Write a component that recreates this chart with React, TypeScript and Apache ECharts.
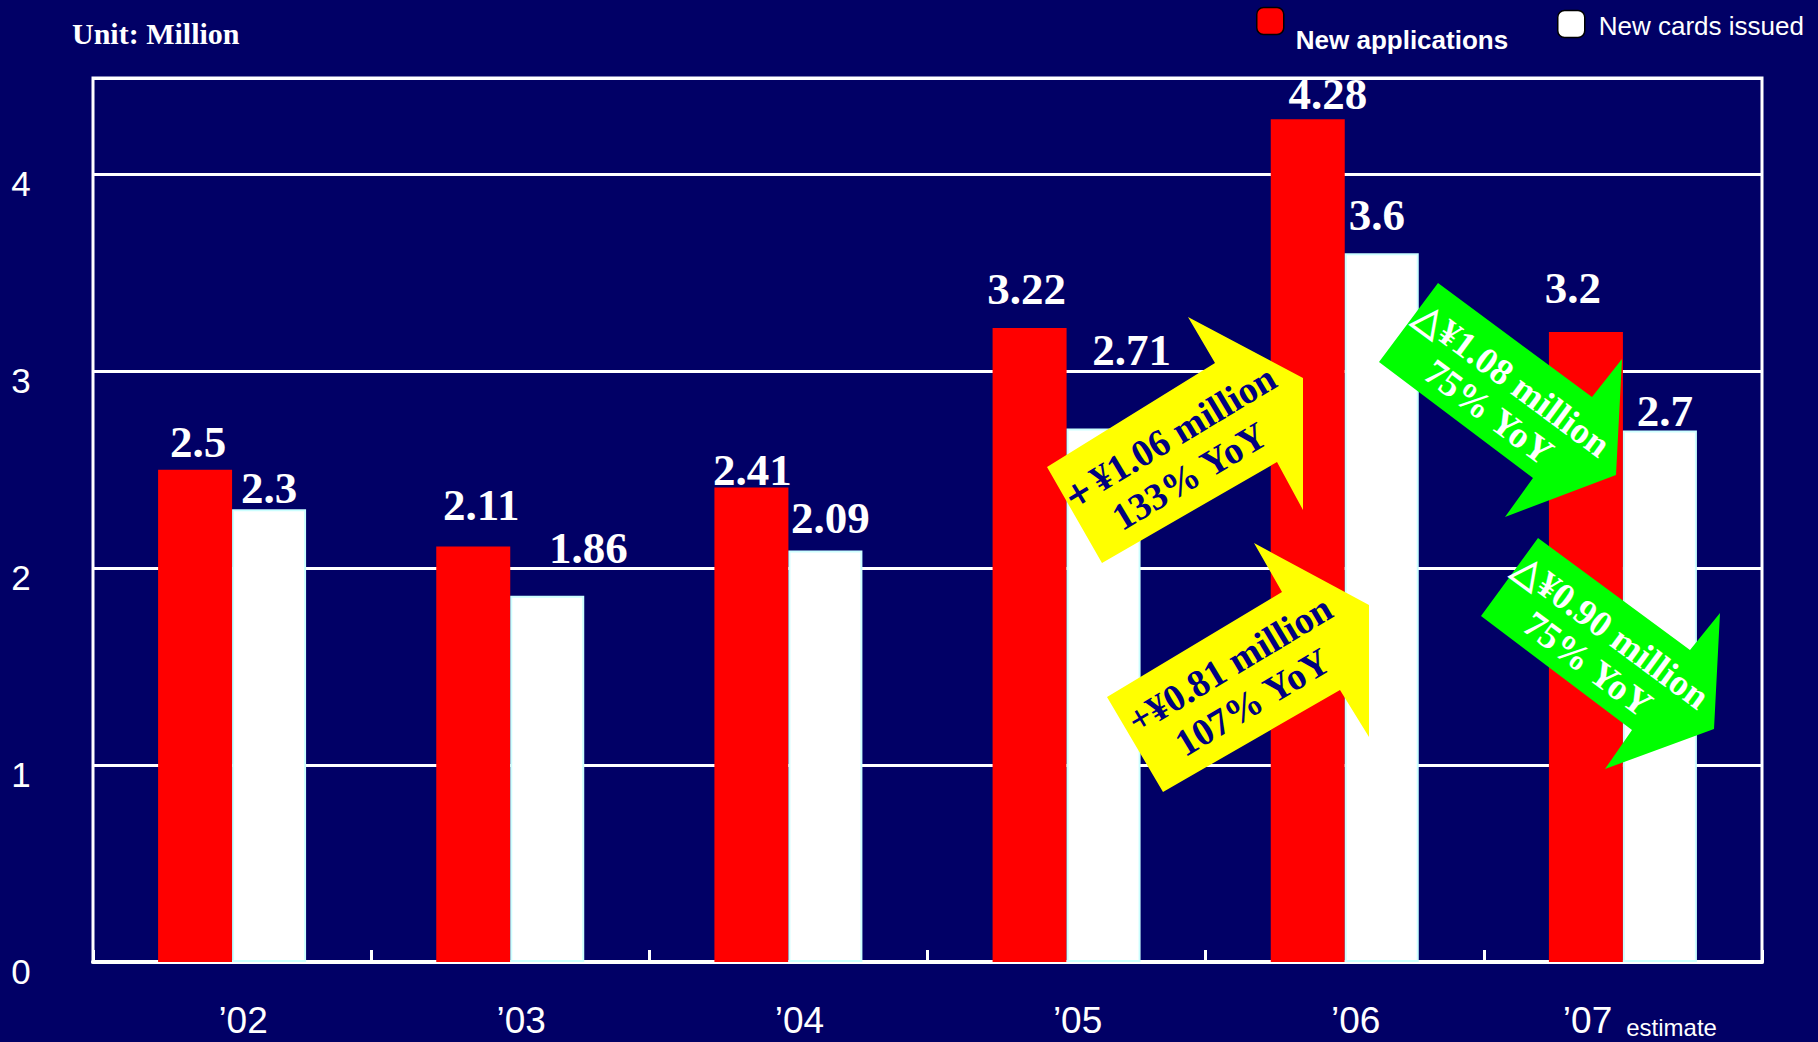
import React, { useEffect, useRef } from "react";
import * as echarts from "echarts";

// ---- data ----
const categories = ["’02", "’03", "’04", "’05", "’06", "’07"];
const newApplications = [2.5, 2.11, 2.41, 3.22, 4.28, 3.2];
const newCardsIssued = [2.3, 1.86, 2.09, 2.71, 3.6, 2.7];
const yMin = 0;
const yMax = 4.49;
const yInterval = 1;
const estimateNote = "estimate";
const unitText = "Unit: Million";
const annotationTexts = [
  "＋¥1.06 million\n133% YoY",
  "+¥0.81 million\n107% YoY",
  "△¥1.08 million\n75% YoY",
  "△¥0.90 million\n75% YoY",
];

// ---- styling (label nudges, annotation geometry) ----
const redLabelOffsets = [
  [3, -5],
  [8, -19],
  [1, 5],
  [-3, -17],
  [20, -3],
  [-13, -21],
];
const whiteLabelOffsets = [
  [0, 1],
  [41, -25],
  [5, -10],
  [28, -56],
  [-5, -16],
  [5, 3],
];

const arrowShapes = [
  {
    fill: "#ffff00",
    points: [
      [1047, 467],
      [1215, 363],
      [1188, 317],
      [1303, 378],
      [1303, 510],
      [1277, 462],
      [1102, 563],
    ],
  },
  {
    fill: "#ffff00",
    points: [
      [1107, 697],
      [1282, 592],
      [1254, 543],
      [1369, 605],
      [1369, 737],
      [1340, 690],
      [1163, 792],
    ],
  },
  {
    fill: "#00ff00",
    points: [
      [1438, 283],
      [1592, 397],
      [1622, 359],
      [1616, 475],
      [1505, 517],
      [1533, 478],
      [1379, 362],
    ],
  },
  {
    fill: "#00ff00",
    points: [
      [1538, 538],
      [1690, 650],
      [1720, 613],
      [1714, 729],
      [1605, 769],
      [1632, 730],
      [1481, 616],
    ],
  },
];
const arrowTextPlacement = [
  { x: 1178, y: 457, rot: 31, color: "#000080", size: 38, lh: 44 },
  { x: 1241, y: 683, rot: 31, color: "#000080", size: 38, lh: 44 },
  { x: 1501, y: 396, rot: -36.5, color: "#ffffff", size: 37, lh: 40 },
  { x: 1600, y: 648, rot: -36.5, color: "#ffffff", size: 37, lh: 40 },
];

const NARROW = "'Liberation Sans Narrow', 'Arial Narrow', 'Liberation Sans', Arial, sans-serif";
const SERIF = "'Liberation Serif', 'Times New Roman', serif";
const SANS = "'Liberation Sans', Arial, sans-serif";

export default function App() {
  const ref = useRef<HTMLDivElement>(null);

  useEffect(() => {
    if (!ref.current) return;
    const chart = echarts.init(ref.current, null, { renderer: "svg" });

    const valueLabel = {
      show: true,
      position: "top",
      distance: 0,
      color: "#ffffff",
      fontFamily: SERIF,
      fontWeight: "bold",
      fontSize: 45,
    };

    const graphics: any[] = [];
    arrowShapes.forEach((a) => {
      graphics.push({
        type: "polygon",
        z: 100,
        shape: { points: a.points },
        style: { fill: a.fill, stroke: "none" },
      });
    });
    arrowTextPlacement.forEach((t, i) => {
      graphics.push({
        type: "text",
        z: 101,
        x: t.x,
        y: t.y,
        rotation: (t.rot * Math.PI) / 180,
        style: {
          text: annotationTexts[i],
          fill: t.color,
          fontFamily: SERIF,
          fontWeight: "bold",
          fontSize: t.size,
          lineHeight: t.lh,
          align: "center",
          verticalAlign: "middle",
        },
      });
    });

    const option: any = {
      animation: false,
      backgroundColor: "#010066",
      title: {
        text: unitText,
        left: 72,
        top: 18,
        padding: 0,
        textStyle: {
          color: "#ffffff",
          fontFamily: SERIF,
          fontWeight: "bold",
          fontSize: 30,
        },
      },
      legend: [
        {
          left: 1256,
          top: -11,
          padding: 0,
          itemWidth: 27,
          itemHeight: 27,
          data: [
            {
              name: "New applications",
              itemStyle: { color: "#ff0000", borderColor: "#000000", borderWidth: 1.5 },
            },
          ],
          formatter: "{a|{name}}",
          textStyle: {
            color: "#ffffff",
            fontFamily: SANS,
            fontWeight: "bold",
            fontSize: 26,
            rich: {
              a: {
                color: "#ffffff",
                fontFamily: SANS,
                fontWeight: "bold",
                fontSize: 26,
                lineHeight: 30,
                padding: [38, 0, 0, 7],
              },
            },
          },
        },
        {
          left: 1557,
          top: 9,
          padding: 0,
          itemWidth: 27,
          itemHeight: 27,
          data: [
            {
              name: "New cards issued",
              itemStyle: { color: "#ffffff", borderColor: "#000000", borderWidth: 1.5 },
            },
          ],
          formatter: "{b|{name}}",
          textStyle: {
            color: "#ffffff",
            fontFamily: SANS,
            fontSize: 26,
            rich: {
              b: {
                color: "#ffffff",
                fontFamily: SANS,
                fontSize: 26,
                lineHeight: 30,
                padding: [4, 0, 0, 9],
              },
            },
          },
        },
      ],
      grid: {
        left: 93,
        right: 56,
        top: 78,
        bottom: 80,
        show: true,
        borderColor: "#ffffff",
        borderWidth: 3,
        backgroundColor: "transparent",
      },
      xAxis: {
        type: "category",
        data: categories,
        axisLine: { show: true, lineStyle: { color: "#ffffff", width: 4 } },
        axisTick: {
          show: true,
          inside: true,
          interval: 0,
          length: 12,
          lineStyle: { color: "#ffffff", width: 3 },
        },
        axisLabel: {
          interval: 0,
          color: "#ffffff",
          fontFamily: NARROW,
          fontSize: 37,
          lineHeight: 37,
          margin: 40,
          padding: [0, 0, 0, 22],
          formatter: (v: string, i: number) =>
            i === categories.length - 1 ? `{d|${v}}{e|${estimateNote}}` : v,
          rich: {
            d: {
              color: "#ffffff",
              fontFamily: NARROW,
              fontSize: 37,
              lineHeight: 37,
              padding: [0, 0, 0, 12],
            },
            e: {
              color: "#ffffff",
              fontFamily: SANS,
              fontSize: 24,
              lineHeight: 30,
              verticalAlign: "bottom",
              padding: [0, 0, 0, 14],
            },
          },
        },
      },
      yAxis: {
        type: "value",
        min: yMin,
        max: yMax,
        interval: yInterval,
        axisLine: { show: false },
        axisTick: { show: false },
        splitLine: { show: true, lineStyle: { color: "#ffffff", width: 3 } },
        axisLabel: {
          showMaxLabel: false,
          color: "#ffffff",
          fontFamily: NARROW,
          fontSize: 35,
          align: "center",
          verticalAlign: "top",
          lineHeight: 18,
          margin: 72,
        },
      },
      series: [
        {
          name: "New applications",
          type: "bar",
          barWidth: 74,
          barGap: "0%",
          itemStyle: { color: "#ff0000" },
          label: valueLabel,
          data: newApplications.map((v, i) => ({
            value: v,
            label: { offset: redLabelOffsets[i] },
          })),
        },
        {
          name: "New cards issued",
          type: "bar",
          barWidth: 74,
          barGap: "0%",
          itemStyle: { color: "#ffffff", borderColor: "#ccffff", borderWidth: 2 },
          label: valueLabel,
          data: newCardsIssued.map((v, i) => ({
            value: v,
            label: { offset: whiteLabelOffsets[i] },
          })),
        },
      ],
      graphic: graphics,
    };

    chart.setOption(option);
    return () => chart.dispose();
  }, []);

  return (
    <div
      ref={ref}
      style={{ position: "fixed", left: 0, top: 0, width: 1818, height: 1042 }}
    />
  );
}
